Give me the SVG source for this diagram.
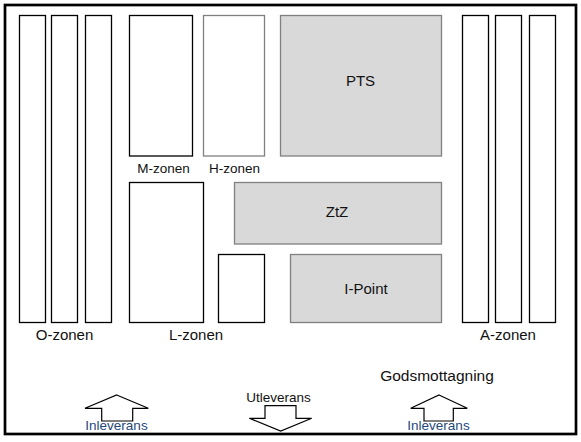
<svg xmlns="http://www.w3.org/2000/svg" width="581" height="442" viewBox="0 0 581 442">
<style>
.k{fill:#fff;stroke:#000;stroke-width:1.3}
.g{fill:#d9d9d9;stroke:#808080;stroke-width:1.3}
.h{fill:#fff;stroke:#808080;stroke-width:1.3}
.a{fill:#fff;stroke:#000;stroke-width:1.2}
text{font-family:"Liberation Sans",Arial,sans-serif;fill:#111;text-anchor:middle}
.s{font-size:13.5px}
.m{font-size:15px}
.b{fill:#1f497d;font-size:13.5px}
</style>
<rect x="0" y="0" width="581" height="442" fill="#fff"/>
<rect id="frame" x="5" y="5" width="571" height="429" fill="none" stroke="#000" stroke-width="2.7"/>
<g id="o-zonen">
<rect class="k" x="19.5" y="15.5" width="26" height="307"/>
<rect class="k" x="51.5" y="15.5" width="26" height="307"/>
<rect class="k" x="85.5" y="15.5" width="26" height="307"/>
<text class="m" x="64.5" y="340">O-zonen</text>
</g>
<g id="m-zonen">
<rect class="k" x="129.5" y="15.5" width="63" height="140.5"/>
<text class="s" x="163.5" y="173">M-zonen</text>
</g>
<g id="h-zonen">
<rect class="h" x="203.5" y="15.5" width="61" height="140.5"/>
<text class="s" x="234.5" y="173">H-zonen</text>
</g>
<g id="pts">
<rect class="g" x="280.5" y="15.5" width="161" height="140.5"/>
<text class="m" x="360.5" y="86">PTS</text>
</g>
<g id="ztz">
<rect class="g" x="234.5" y="182.5" width="207" height="61.5"/>
<text class="m" x="337" y="217">ZtZ</text>
</g>
<g id="i-point">
<rect class="g" x="290.5" y="254.5" width="151" height="68"/>
<text class="m" x="366" y="294">I-Point</text>
</g>
<g id="l-zonen">
<rect class="k" x="129.5" y="182.5" width="74" height="140"/>
<rect class="k" x="218.5" y="254.5" width="46" height="68"/>
<text class="m" x="196" y="340">L-zonen</text>
</g>
<g id="a-zonen">
<rect class="k" x="462.5" y="15.5" width="26" height="307"/>
<rect class="k" x="495.5" y="15.5" width="26" height="307"/>
<rect class="k" x="529.5" y="15.5" width="26" height="307"/>
<text class="m" x="508" y="340">A-zonen</text>
</g>
<g id="godsmottagning">
<text class="m" x="437" y="381" style="font-size:15.5px">Godsmottagning</text>
</g>
<g id="connectors">
<g id="inleverans-left">
<polygon class="a" points="116.7,395 148.3,408.3 132.7,408.3 132.7,421 101.7,421 101.7,408.3 85,408.3"/>
<text class="b" x="116.5" y="429.5">Inleverans</text>
</g>
<g id="utleverans">
<polygon class="a" points="265,405.7 296,405.7 296,418.3 311.7,418.3 280.7,431 249.3,418.3 265,418.3"/>
<text class="s" x="278.5" y="402.3">Utleverans</text>
</g>
<g id="inleverans-right">
<polygon class="a" points="439,395 467.3,408.3 453.3,408.3 453.3,421 424,421 424,408.3 410.7,408.3"/>
<text class="b" x="438.5" y="429.5">Inleverans</text>
</g>
</g>
</svg>
